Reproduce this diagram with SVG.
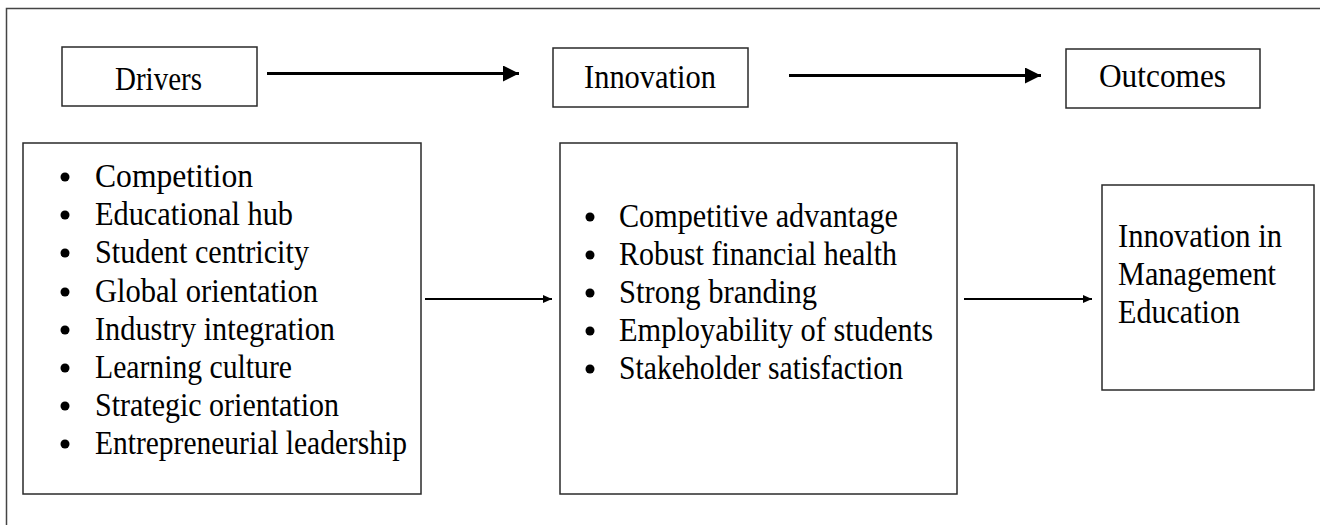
<svg xmlns="http://www.w3.org/2000/svg" width="1320" height="525" viewBox="0 0 1320 525">
  <style>
    .box { fill: #ffffff; stroke: #2a2a2a; stroke-width: 1.5; }
    .frame { fill: none; stroke: #444444; stroke-width: 1.5; }
    .lbl { font-family: "Liberation Serif", "Times New Roman", serif; font-size: 33px; fill: #000000; }
    .item { font-family: "Liberation Serif", "Times New Roman", serif; font-size: 34px; fill: #000000; }
    .dot { fill: #000000; }
    .thick { stroke: #000000; stroke-width: 3; fill: none; }
    .thin { stroke: #000000; stroke-width: 2; fill: none; }
  </style>
  <defs>
    <marker id="headBig" markerUnits="userSpaceOnUse" markerWidth="17" markerHeight="17" refX="16" refY="8" orient="auto">
      <path d="M0,0 L16,8 L0,16 Z" fill="#000000"/>
    </marker>
    <marker id="headSmall" markerUnits="userSpaceOnUse" markerWidth="10" markerHeight="10" refX="9" refY="4" orient="auto">
      <path d="M0,0 L9,4 L0,8 Z" fill="#000000"/>
    </marker>
  </defs>

  <rect width="1320" height="525" fill="#ffffff"/>

  <!-- outer frame: left and top edges -->
  <path class="frame" d="M6.5,525 L6.5,8.5 L1320,8.5"/>

  <!-- header row -->
  <g id="drivers-head">
    <rect class="box" x="62" y="47" width="195" height="59"/>
    <text class="lbl" x="115" y="90" textLength="87" lengthAdjust="spacingAndGlyphs">Drivers</text>
  </g>
  <g id="innovation-head">
    <rect class="box" x="553" y="48" width="195" height="59"/>
    <text class="lbl" x="584" y="88" textLength="132" lengthAdjust="spacingAndGlyphs">Innovation</text>
  </g>
  <g id="outcomes-head">
    <rect class="box" x="1066" y="49" width="194" height="59"/>
    <text class="lbl" x="1099" y="87" textLength="127" lengthAdjust="spacingAndGlyphs">Outcomes</text>
  </g>

  <!-- drivers list -->
  <g id="drivers-list">
    <rect class="box" x="23" y="143" width="398" height="351"/>
    <circle class="dot" cx="65" cy="177" r="4.5"/>
    <text class="item" x="95" y="187" textLength="158" lengthAdjust="spacingAndGlyphs">Competition</text>
    <circle class="dot" cx="65" cy="215" r="4.5"/>
    <text class="item" x="95" y="225" textLength="198" lengthAdjust="spacingAndGlyphs">Educational hub</text>
    <circle class="dot" cx="65" cy="253" r="4.5"/>
    <text class="item" x="95" y="263" textLength="214" lengthAdjust="spacingAndGlyphs">Student centricity</text>
    <circle class="dot" cx="65" cy="292" r="4.5"/>
    <text class="item" x="95" y="302" textLength="223" lengthAdjust="spacingAndGlyphs">Global orientation</text>
    <circle class="dot" cx="65" cy="330" r="4.5"/>
    <text class="item" x="95" y="340" textLength="240" lengthAdjust="spacingAndGlyphs">Industry integration</text>
    <circle class="dot" cx="65" cy="368" r="4.5"/>
    <text class="item" x="95" y="378" textLength="197" lengthAdjust="spacingAndGlyphs">Learning culture</text>
    <circle class="dot" cx="65" cy="406" r="4.5"/>
    <text class="item" x="95" y="416" textLength="244" lengthAdjust="spacingAndGlyphs">Strategic orientation</text>
    <circle class="dot" cx="65" cy="444" r="4.5"/>
    <text class="item" x="95" y="454" textLength="312" lengthAdjust="spacingAndGlyphs">Entrepreneurial leadership</text>
  </g>

  <!-- innovation list -->
  <g id="innovation-list">
    <rect class="box" x="560" y="143" width="397" height="351"/>
    <circle class="dot" cx="590" cy="217" r="4.5"/>
    <text class="item" x="619" y="227" textLength="279" lengthAdjust="spacingAndGlyphs">Competitive advantage</text>
    <circle class="dot" cx="590" cy="255" r="4.5"/>
    <text class="item" x="619" y="265" textLength="278" lengthAdjust="spacingAndGlyphs">Robust financial health</text>
    <circle class="dot" cx="590" cy="293" r="4.5"/>
    <text class="item" x="619" y="303" textLength="198" lengthAdjust="spacingAndGlyphs">Strong branding</text>
    <circle class="dot" cx="590" cy="331" r="4.5"/>
    <text class="item" x="619" y="341" textLength="314" lengthAdjust="spacingAndGlyphs">Employability of students</text>
    <circle class="dot" cx="590" cy="369" r="4.5"/>
    <text class="item" x="619" y="379" textLength="284" lengthAdjust="spacingAndGlyphs">Stakeholder satisfaction</text>
  </g>

  <!-- outcome -->
  <g id="outcome">
    <rect class="box" x="1102" y="185" width="212" height="205"/>
    <text class="item" x="1118" y="247" textLength="164" lengthAdjust="spacingAndGlyphs">Innovation in</text>
    <text class="item" x="1118" y="285" textLength="158" lengthAdjust="spacingAndGlyphs">Management</text>
    <text class="item" x="1118" y="323" textLength="122" lengthAdjust="spacingAndGlyphs">Education</text>
  </g>

  <!-- connectors -->
  <g id="connectors">
    <line class="thick" x1="267" y1="73.5" x2="519" y2="73.5" marker-end="url(#headBig)"/>
    <line class="thick" x1="789" y1="75.5" x2="1041" y2="75.5" marker-end="url(#headBig)"/>
    <line class="thin" x1="425" y1="299" x2="552" y2="299" marker-end="url(#headSmall)"/>
    <line class="thin" x1="964" y1="299" x2="1092" y2="299" marker-end="url(#headSmall)"/>
  </g>
</svg>
